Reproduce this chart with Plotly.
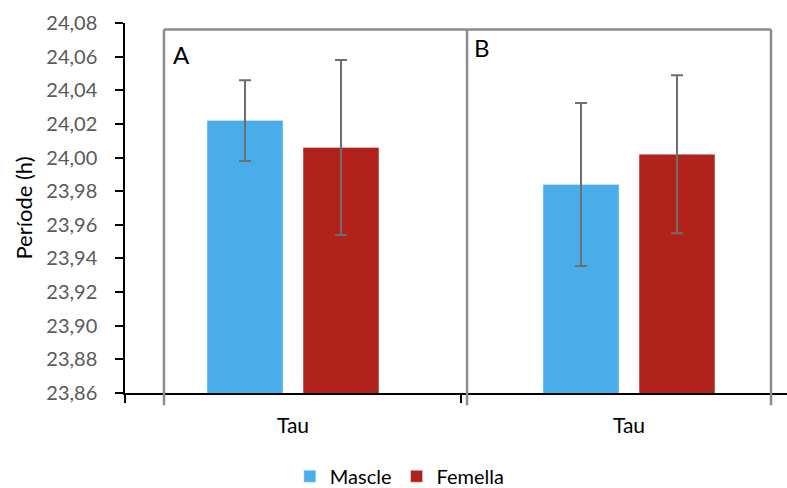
import plotly.graph_objects as go

# Period (tau) by sex, two experimental panels
groups = [0, 1]
group_labels = ["Tau", "Tau"]
panel_labels = ["A", "B"]
series_names = ["Mascle", "Femella"]
mascle_vals = [24.022, 23.984]
mascle_err = [0.024, 0.0485]
femella_vals = [24.006, 24.002]
femella_err = [0.052, 0.047]
y_ticks = [23.86, 23.88, 23.90, 23.92, 23.94, 23.96, 23.98, 24.00, 24.02, 24.04, 24.06, 24.08]

W, H = 787, 488
ML, MR, MT, MB = 125, 0, 23, 95
X_RANGE = [-0.5, -0.5 + (W - ML - MR) / 336.0]
Y_RANGE = [23.86, 24.08]

FONT = "Lato"
BLUE = "#48ADE8"
RED = "#B0221A"
ERR = "#6E6E6E"
PANEL = "#8C8C8C"


def px(x):
    return (x - X_RANGE[0]) / (X_RANGE[1] - X_RANGE[0])


def py(y):
    return (y - Y_RANGE[0]) / (Y_RANGE[1] - Y_RANGE[0])


fig = go.Figure()
fig.add_trace(go.Bar(
    x=groups, y=mascle_vals, name=series_names[0], marker_color=BLUE,
    error_y=dict(type="data", array=mascle_err, color=ERR, thickness=2, width=6),
))
fig.add_trace(go.Bar(
    x=groups, y=femella_vals, name=series_names[1], marker_color=RED,
    error_y=dict(type="data", array=femella_err, color=ERR, thickness=2, width=6),
))

# panel frames (open at the bottom, running slightly past the x axis)
panel_edges = [-0.384, 0.518, 1.4226]
top, bottom = py(24.0761), py(23.8527)
shapes = [dict(type="line", xref="paper", yref="paper",
               x0=px(panel_edges[0]), x1=px(panel_edges[-1]), y0=top, y1=top,
               line=dict(color=PANEL, width=2.5))]
for e in panel_edges:
    shapes.append(dict(type="line", xref="paper", yref="paper",
                       x0=px(e), x1=px(e), y0=top, y1=bottom,
                       line=dict(color=PANEL, width=2.5)))

annotations = [
    dict(text=panel_labels[0], xref="paper", yref="paper", x=px(-0.333), y=py(24.0614),
         showarrow=False, font=dict(family=FONT, size=24, color="black"),
         xanchor="center", yanchor="middle"),
    dict(text=panel_labels[1], xref="paper", yref="paper", x=px(0.5625), y=py(24.0653),
         showarrow=False, font=dict(family=FONT, size=24, color="black"),
         xanchor="center", yanchor="middle"),
]

fig.update_layout(
    width=W, height=H,
    margin=dict(l=ML, r=MR, t=MT, b=MB, pad=0, autoexpand=False),
    paper_bgcolor="white", plot_bgcolor="white",
    barmode="group", bargap=0.4286, bargroupgap=0.209,
    separators=", ",
    font=dict(family=FONT, size=21, color="black"),
    shapes=shapes, annotations=annotations,
    legend=dict(orientation="h", x=px(0.318), xanchor="center",
                y=py(23.8105), yanchor="middle",
                font=dict(family=FONT, size=20, color="black"),
                itemwidth=30, tracegroupgap=0),
)
fig.update_xaxes(
    range=X_RANGE, tickmode="array", tickvals=groups, ticktext=group_labels,
    ticks="", showline=True, linecolor="black", linewidth=1.5,
    showgrid=False, zeroline=False, ticklabelstandoff=13,
    tickfont=dict(family=FONT, size=21, color="black"),
    minor=dict(tickmode="array", tickvals=[-0.5, 0.5, 1.5], ticks="outside",
               ticklen=8, tickwidth=1.5, tickcolor="black", showgrid=False),
)
fig.update_yaxes(
    range=Y_RANGE, tickmode="array", tickvals=y_ticks, tickformat=".2f",
    ticks="outside", ticklen=8, tickwidth=1.5, tickcolor="black",
    showline=True, linecolor="black", linewidth=1.5,
    showgrid=False, zeroline=False, ticklabelstandoff=14,
    tickfont=dict(family=FONT, size=20, color="#595959"),
    title=dict(text="Període (h)", font=dict(family=FONT, size=22, color="black"),
               standoff=8),
)

fig.write_html("out.html")
